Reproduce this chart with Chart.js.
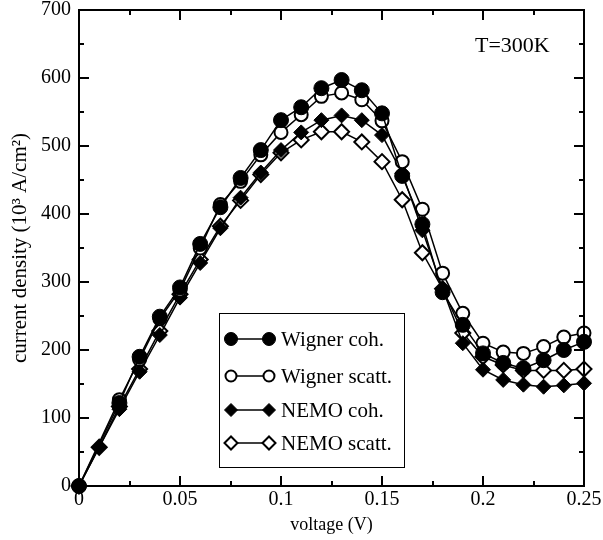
<!DOCTYPE html>
<html>
<head>
<meta charset="utf-8">
<script src="https://cdn.jsdelivr.net/npm/chart.js@4.4.1/dist/chart.umd.min.js"></script>
<style>
  html, body { margin: 0; padding: 0; background: #fff; }
  #wrap { width: 603px; height: 540px; }
</style>
</head>
<body>
<div id="wrap"><canvas id="jvChart" width="603" height="540"></canvas></div>
<script>
// dados (tensão em V, densidade de corrente em 10^3 A/cm^2)
const voltage = [0, 0.01, 0.02, 0.03, 0.04, 0.05, 0.06, 0.07, 0.08, 0.09, 0.10, 0.11, 0.12,
                 0.13, 0.14, 0.15, 0.16, 0.17, 0.18, 0.19, 0.20, 0.21, 0.22, 0.23, 0.24, 0.25];
const wignerCoh   = [0, null, 122, 190, 249, 292, 356, 410, 453, 494, 538, 557, 585,
                     597, 582, 548, 456, 385, 285, 237, 195, 181, 173, 185, 200, 212];
const wignerScatt = [0, null, 127, 186, 246, 288, 350, 414, 448, 487, 520, 546, 573,
                     578, 568, 537, 477, 407, 313, 254, 210, 197, 195, 205, 219, 225];
const nemoCoh     = [0, 57, 113, 168, 222, 277, 328, 379, 424, 461, 494, 520, 538,
                     545, 538, 516, 460, 376, 290, 210, 171, 156, 149, 146, 148, 151];
const nemoScatt   = [0, 57, 117, 172, 228, 282, 333, 382, 420, 458, 490, 509, 521,
                     521, 506, 477, 421, 343, 290, 225, 190, 178, 170, 170, 170, 172];
const seriesNames = ['Wigner coh.', 'Wigner scatt.', 'NEMO coh.', 'NEMO scatt.'];
const xTicks = [0, 0.05, 0.1, 0.15, 0.2, 0.25];
const yTicks = [0, 100, 200, 300, 400, 500, 600, 700];

const serif = "'Liberation Serif', 'DejaVu Serif', serif";

function pontos(valores) {
    return voltage.map((v, i) => ({ x: v, y: valores[i] }));
}

function serie(nome, valores, estilo, cheio) {
    return {
        label: nome,
        data: pontos(valores),
        borderColor: '#000',
        borderWidth: 1.5,
        backgroundColor: cheio ? '#000' : '#fff',
        pointStyle: estilo,
        pointRadius: estilo === 'circle' ? (cheio ? 7.5 : 6.5) : 7.5,
        pointBorderWidth: cheio ? 1 : 2,
        pointBackgroundColor: cheio ? '#000' : '#fff',
        pointBorderColor: '#000',
        spanGaps: true,
        tension: 0,
        clip: false
    };
}

// ticks para dentro e moldura (estilo xmgrace)
const molduraPlugin = {
    id: 'moldura',
    afterDatasetsDraw(chart) {
        const { ctx, chartArea: a, scales } = chart;
        ctx.save();
        ctx.strokeStyle = '#000';
        ctx.lineWidth = 2;
        ctx.beginPath();
        for (let k = 0; k <= 10; k++) {
            const px = Math.round(scales.x.getPixelForValue(k * 0.025));
            const len = k % 2 === 0 ? 10 : 5;
            ctx.moveTo(px, a.bottom); ctx.lineTo(px, a.bottom - len);
            ctx.moveTo(px, a.top); ctx.lineTo(px, a.top + len);
        }
        for (let k = 0; k <= 14; k++) {
            const py = Math.round(scales.y.getPixelForValue(k * 50));
            const len = k % 2 === 0 ? 10 : 5;
            ctx.moveTo(a.left, py); ctx.lineTo(a.left + len, py);
            ctx.moveTo(a.right, py); ctx.lineTo(a.right - len, py);
        }
        ctx.stroke();
        ctx.strokeRect(a.left, a.top, a.right - a.left, a.bottom - a.top);

        ctx.fillStyle = '#000';
        ctx.font = '22px ' + serif;
        ctx.textBaseline = 'middle';
        ctx.textAlign = 'left';
        ctx.fillText('T=300K', 475, 46);
        ctx.restore();
    }
};

// legenda desenhada à mão: marcador — linha — marcador + texto
const legendaPlugin = {
    id: 'legenda',
    afterDraw(chart) {
        const { ctx } = chart;
        ctx.save();
        ctx.fillStyle = '#fff';
        ctx.fillRect(219, 313, 185, 154);
        ctx.strokeStyle = '#000';
        ctx.lineWidth = 1;
        ctx.strokeRect(219.5, 313.5, 185, 154);
        const linhas = [339, 376, 410, 443];
        chart.data.datasets.forEach((ds, i) => {
            const y = linhas[i];
            ctx.strokeStyle = '#000';
            ctx.lineWidth = 1.5;
            ctx.beginPath();
            ctx.moveTo(231, y); ctx.lineTo(269, y);
            ctx.stroke();
            [231, 269].forEach(x => {
                ctx.fillStyle = ds.pointBackgroundColor;
                ctx.strokeStyle = '#000';
                ctx.lineWidth = ds.pointBorderWidth;
                Chart.helpers.drawPoint(ctx, {
                    pointStyle: ds.pointStyle,
                    radius: ds.pointRadius - 1,
                    rotation: 0,
                    borderWidth: ds.pointBorderWidth
                }, x, y);
            });
            ctx.fillStyle = '#000';
            ctx.font = '21px ' + serif;
            ctx.textBaseline = 'middle';
            ctx.textAlign = 'left';
            ctx.fillText(ds.label, 281, y + 1);
        });
        ctx.restore();
    }
};

const ctxJV = document.getElementById('jvChart').getContext('2d');
new Chart(ctxJV, {
    type: 'line',
    data: {
        datasets: [
            serie(seriesNames[0], wignerCoh, 'circle', true),
            serie(seriesNames[1], wignerScatt, 'circle', false),
            serie(seriesNames[2], nemoCoh, 'rectRot', true),
            serie(seriesNames[3], nemoScatt, 'rectRot', false)
        ]
    },
    options: {
        responsive: false,
        animation: false,
        layout: { padding: { top: 10, right: 19, left: 0, bottom: 0 } },
        plugins: {
            legend: { display: false },
            tooltip: { enabled: false }
        },
        scales: {
            x: {
                type: 'linear',
                min: 0,
                max: 0.25,
                grid: { display: false, drawTicks: false },
                border: { display: false },
                afterBuildTicks: s => { s.ticks = xTicks.map(v => ({ value: v })); },
                afterFit: s => { s.height = 54; s.paddingLeft = 0; s.paddingRight = 0; },
                ticks: {
                    color: '#000',
                    padding: 2,
                    maxRotation: 0,
                    font: { family: serif, size: 20 },
                    callback: v => String(Number(v.toFixed(2)))
                },
                title: {
                    display: true,
                    text: 'voltage (V)',
                    color: '#000',
                    font: { family: serif, size: 18 },
                    padding: { top: 0, bottom: 4 }
                }
            },
            y: {
                type: 'linear',
                min: 0,
                max: 700,
                grid: { display: false, drawTicks: false },
                border: { display: false },
                afterBuildTicks: s => { s.ticks = yTicks.map(v => ({ value: v })); },
                afterFit: s => { s.width = 79; s.paddingTop = 0; s.paddingBottom = 0; },
                ticks: {
                    color: '#000',
                    padding: 8,
                    font: { family: serif, size: 20 }
                },
                title: {
                    display: true,
                    text: 'current density (10³ A/cm²)',
                    color: '#000',
                    font: { family: serif, size: 21 },
                    padding: { top: 8, bottom: 0 }
                }
            }
        }
    },
    plugins: [molduraPlugin, legendaPlugin]
});
</script>
</body>
</html>
